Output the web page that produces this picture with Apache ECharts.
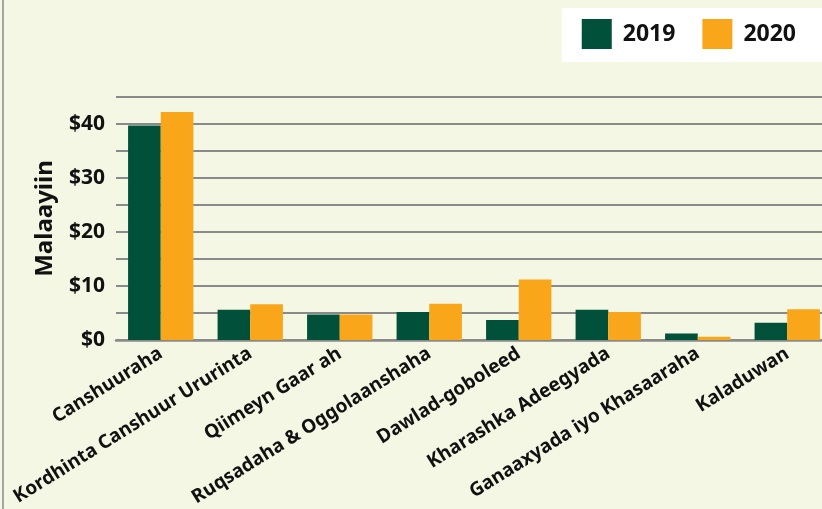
<!DOCTYPE html>
<html>
<head>
<meta charset="utf-8">
<script src="https://cdn.jsdelivr.net/npm/echarts@6/dist/echarts.min.js"></script>
<style>
  html, body { margin: 0; padding: 0; background: #f4f7e3; }
  #chart { width: 822px; height: 509px; }
</style>
</head>
<body>
<div id="chart"></div>
<script>
var categories = ['Canshuuraha', 'Kordhinta Canshuur Ururinta', 'Qiimeyn Gaar ah',
  'Ruqsadaha & Oggolaanshaha', 'Dawlad-goboleed', 'Kharashka Adeegyada',
  'Ganaaxyada iyo Khasaaraha', 'Kaladuwan'];
var values2019 = [39.7, 5.6, 4.7, 5.2, 3.7, 5.6, 1.2, 3.2];
var values2020 = [42.2, 6.6, 4.7, 6.7, 11.2, 5.2, 0.6, 5.7];
var yTicks = [0, 10, 20, 30, 40];

var myChart = echarts.init(document.getElementById('chart'));
myChart.setOption({
    backgroundColor: '#f4f7e3',
    color: ['#00503a', '#f9a61b'],
    textStyle: { fontFamily: 'Noto Sans' },
    graphic: [
        {
            type: 'line',
            shape: { x1: 3, y1: 0, x2: 3, y2: 509 },
            style: { stroke: '#8a8a8a', lineWidth: 1.5 }
        }
    ],
    legend: {
        right: 0,
        top: 8,
        backgroundColor: '#ffffff',
        padding: [11, 26, 13, 20],
        itemWidth: 30,
        itemHeight: 30,
        itemGap: 27,
        icon: 'rect',
        textStyle: { fontSize: 23, fontWeight: 'bold', color: '#111', padding: [0, 0, 0, 6] },
        data: ['2019', '2020']
    },
    grid: {
        left: 116,
        top: 97,
        width: 716,
        bottom: 169,
        containLabel: false,
        outerBoundsMode: 'none'
    },
    xAxis: {
        type: 'category',
        data: categories,
        axisTick: { show: false },
        axisLine: { lineStyle: { color: '#8a8a8a', width: 2.5 } },
        axisLabel: {
            interval: 0,
            rotate: 32,
            margin: 12,
            fontSize: 19,
            fontWeight: 'bold',
            color: '#111'
        }
    },
    yAxis: {
        type: 'value',
        min: 0,
        max: 45,
        interval: 5,
        name: 'Malaayiin',
        nameLocation: 'middle',
        nameGap: 59,
        nameTextStyle: { fontSize: 24, fontWeight: 'bold', color: '#111' },
        axisLine: { show: false },
        axisTick: { show: false },
        axisLabel: {
            margin: 11,
            fontSize: 21,
            fontWeight: 'bold',
            color: '#111',
            formatter: function (v) {
                return yTicks.indexOf(v) >= 0 ? '$' + v : '';
            }
        },
        splitLine: { lineStyle: { color: '#8a8a8a', width: 2 } }
    },
    series: [
        {
            name: '2019',
            type: 'bar',
            barGap: '0%',
            barCategoryGap: '27%',
            data: values2019
        },
        {
            name: '2020',
            type: 'bar',
            data: values2020
        }
    ]
});
</script>
</body>
</html>
